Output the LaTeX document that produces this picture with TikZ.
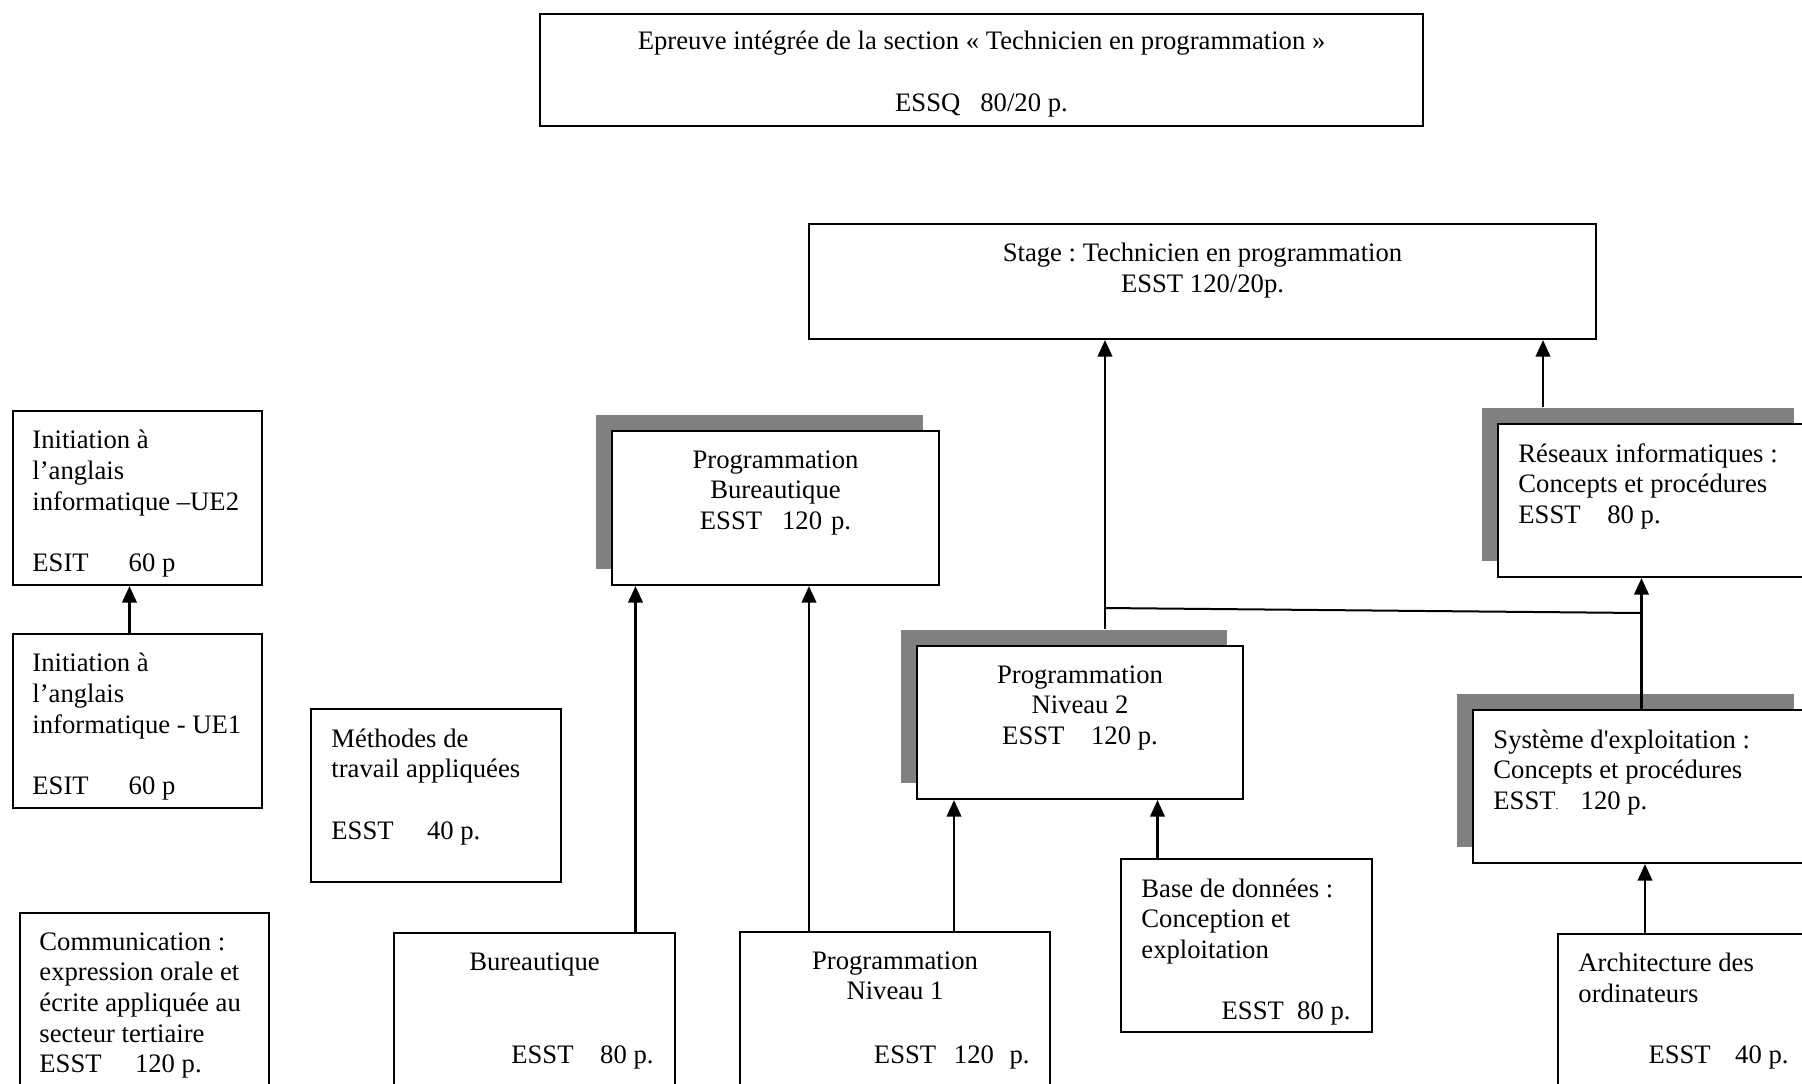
\documentclass[tikz,border=0pt]{standalone}
\usepackage{fontspec}
\setmainfont{Liberation Serif}
\usetikzlibrary{arrows.meta, positioning, fit, shadows}
\frenchspacing

\begin{document}
\begin{tikzpicture}[
  x=0.45pt, y=-0.45pt,
  font=\fontsize{12pt}{13.8pt}\selectfont,
  box/.style={rectangle, draw, fill=white, line width=0.9pt, inner sep=0pt},
  shadowbox/.style={box, drop shadow={shadow xshift=-7.2pt, shadow yshift=7.2pt,
                    fill=black!50, opacity=1}},
  arrow/.style={-{Triangle[length=7.5pt,width=6.5pt]}, line width=1.2pt},
  txt/.style={inner sep=0pt, align=left, anchor=north west},
  ctxt/.style={inner sep=0pt, align=center, anchor=north},
  rtxt/.style={inner sep=0pt, anchor=base east}
]
\useasboundingbox (0,0) rectangle (1802,1083);
\clip (0,0) rectangle (1802,1083);

% epreuve integree et stage
\node[box, fit={(540,14) (1423,126)}] (epreuve) {};
\node[ctxt] (epreuvetxt) at ([shift={(0,18)}]epreuve.north)
  {Epreuve intégrée de la section «~Technicien en programmation~»\\[\baselineskip]
   ESSQ~~~80/20 p.};

\node[box, fit={(809,224) (1596,339)}] (stage) {};
\node[ctxt] (stagetxt) at ([shift={(0,20)}]stage.north)
  {Stage : Technicien en programmation\\ ESST 120/20p.};

% colonne de gauche
\node[box, fit={(13,411) (262,585)}] (ue2) {};
\node[txt] (ue2txt) at ([shift={(20,20)}]ue2.north west)
  {Initiation à\\ l’anglais\\ informatique –UE2\\[\baselineskip] ESIT\hspace{18pt}60 p};

\node[box, fit={(13,634) (262,808)}] (ue1) {};
\node[txt] (ue1txt) at ([shift={(20,20)}]ue1.north west)
  {Initiation à\\ l’anglais\\ informatique - UE1\\[\baselineskip] ESIT\hspace{18pt}60 p};

\node[box, fit={(311,709) (561,882)}] (meth) {};
\node[txt] (methtxt) at ([shift={(21,20)}]meth.north west)
  {Méthodes de\\ travail appliquées\\[\baselineskip] ESST\hspace{15pt}40 p.};

\node[box, fit={(20,913) (269,1100)}] (comm) {};
\node[txt] (commtxt) at ([shift={(20,20)}]comm.north west)
  {Communication :\\ expression orale et\\ écrite appliquée au\\ secteur tertiaire\\
   ESST\hspace{15pt}120 p.};

% programmation
\node[box, fit={(394,933) (675,1100)}] (bur) {};
\node[ctxt] (burtxt) at ([shift={(0,20)}]bur.north) {Bureautique};
\node[rtxt] (burp) at ([shift={(-22,131)}]bur.north east) {ESST\hspace{12pt}80 p.};

\node[box, fit={(740,932) (1050,1100)}] (pn1) {};
\node[ctxt] (pn1txt) at ([shift={(0,20)}]pn1.north) {Programmation\\ Niveau 1};
\node[rtxt] (pn1p) at ([shift={(-21,132)}]pn1.north east)
  {ESST\hspace{8pt}120\hspace{7pt}p.};

\node[shadowbox, fit={(612,431) (939,585)}] (pb) {};
\node[ctxt] (pbtxt) at ([shift={(0,20)}]pb.north)
  {Programmation\\ Bureautique\\ ESST\hspace{9pt}120\hspace{4pt}p.};

\node[shadowbox, fit={(917,646) (1243,799)}] (pn2) {};
\node[ctxt] (pn2txt) at ([shift={(0,20)}]pn2.north)
  {Programmation\\ Niveau 2\\ ESST\hspace{12pt}120 p.};

\node[box, fit={(1121,859) (1372,1032)}] (bdd) {};
\node[txt] (bddtxt) at ([shift={(21,20)}]bdd.north west)
  {Base de données :\\ Conception et\\ exploitation};
\node[rtxt] (bddp) at ([shift={(-22,161)}]bdd.north east) {ESST~~80 p.};

% reseaux et systeme
\node[shadowbox, fit={(1498,424) (1810,577)}] (res) {};
\node[txt] (restxt) at ([shift={(21,20)}]res.north west)
  {Réseaux informatiques :\\ Concepts et procédures\\ ESST\hspace{12pt}80 p.};

\node[shadowbox, fit={(1473,710) (1810,863)}] (sys) {};
\node[txt] (systxt) at ([shift={(21,20)}]sys.north west)
  {Système d\textquotesingle exploitation :\\ Concepts et procédures\\
   ESST{\tiny .}\hspace{10pt}120 p.};

\node[box, fit={(1558,934) (1810,1100)}] (arch) {};
\node[txt] (archtxt) at ([shift={(21,20)}]arch.north west)
  {Architecture des\\ ordinateurs};
\node[rtxt] (archp) at ([shift={(-22,130)}]arch.north east) {ESST\hspace{11pt}40 p.};

% fleches
\draw[arrow] ([shift={(-8,0)}]ue1.north) -- ([shift={(-8,0)}]ue2.south);

\coordinate (b1) at ([shift={(101,0)}]bur.north);
\draw[arrow] (b1) -- (b1 |- pb.south);
\coordinate (n1a) at ([shift={(-86,0)}]pn1.north);
\draw[arrow] (n1a) -- (n1a |- pb.south);
\coordinate (n1b) at ([shift={(59,0)}]pn1.north);
\draw[arrow] (n1b) -- (n1b |- pn2.south);
\coordinate (bd) at ([shift={(-89,0)}]bdd.north);
\draw[arrow] (bd) -- (bd |- pn2.south);

\coordinate (n2) at ([shift={(25,-16)}]pn2.north);
\draw[arrow] (n2) -- (n2 |- stage.south);
\coordinate (rs) at ([shift={(-111,-16)}]res.north);
\draw[arrow] (rs) -- (rs |- stage.south);
\draw[arrow] (sys.north) -- (sys.north |- res.south);
\coordinate (ar) at ([shift={(-39,0)}]arch.north);
\draw[arrow] (ar) -- (ar |- sys.south);

% liaison niveau 2 - systeme
\coordinate (j1) at ([shift={(0,-21)}]n2);
\coordinate (j2) at ([shift={(0,-96)}]sys.north);
\draw[line width=0.9pt] (j1) -- (j2);

\end{tikzpicture}
\end{document}
